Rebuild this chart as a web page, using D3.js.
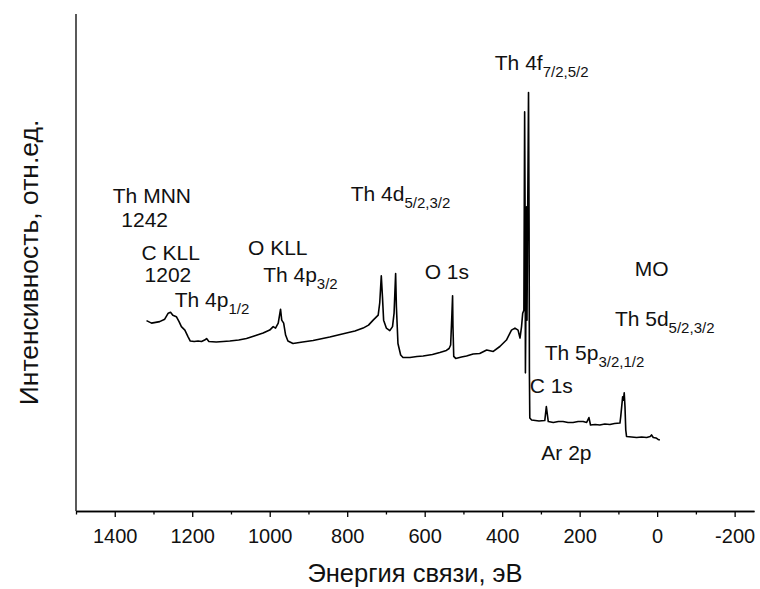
<!DOCTYPE html>
<html>
<head>
<meta charset="utf-8">
<script src="https://cdn.jsdelivr.net/npm/d3@7/dist/d3.min.js"></script>
<style>
  html, body { margin: 0; padding: 0; background: #fff; }
  svg { display: block; font-family: "Liberation Sans", Arial, sans-serif; }
</style>
</head>
<body>
<svg id="chart" width="760" height="589"></svg>
<script>
// XPS survey spectrum: binding energy (eV) and intensity (arb. units)
const energy = [1318, 1305, 1284, 1271, 1262, 1256, 1250, 1241, 1234, 1228, 1219, 1211, 1205, 1195, 1185,
  1176, 1168, 1163, 1157, 1138, 1120, 1103, 1080, 1060, 1040, 1017, 1000, 991, 985, 978, 972, 969, 964,
  959, 953, 940, 915, 888, 845, 802, 780, 759, 745, 733, 720, 716, 712, 709, 706, 699, 690, 683, 679,
  675, 673, 669, 662, 656, 638, 620, 604, 580, 561, 544, 537, 533, 530, 528, 527, 525, 520, 505, 492,
  475, 458, 440, 423, 406, 389, 376, 367, 359, 354, 350, 347, 344, 342, 341, 340, 338.5, 337, 336, 333,
  332, 330.5, 329.7, 328.7, 324, 305, 290, 286, 281, 268, 255, 243, 230, 217, 204, 191, 182, 176, 172,
  160, 148, 135, 122, 110, 96, 94, 89, 87, 85, 83, 81, 79, 66, 53, 40, 27, 18, 14.5, 10, 3, -2.5, -7];
const intensity = [383, 378, 381, 386, 398, 400, 394, 391, 381, 371, 364, 351, 342, 341, 342,
  341, 344, 347, 341, 340, 341, 342, 344, 347, 352, 358, 364, 371, 368, 378, 406, 384, 378,
  354, 342, 337, 340, 343, 350, 358, 362, 368, 374, 384, 394, 419, 473, 431, 384, 368, 363, 371, 398,
  478, 411, 337, 314, 309, 309, 311, 312, 315, 319, 323, 327, 334, 391, 433, 371, 311, 307, 310, 312,
  316, 317, 324, 321, 331, 344, 364, 368, 364, 348, 371, 398, 404, 803, 626, 278, 425, 612, 384, 726,
  842, 565, 280, 187, 183, 181, 182, 210, 180, 178, 180, 180, 178, 178, 180, 180, 178, 188, 173,
  174, 173, 175, 174, 176, 177, 190, 230, 223, 238, 210, 163, 150, 149, 148, 149, 148, 150, 153, 148, 147, 144, 143];

// Axis tick values
const majorTicks = [1400, 1200, 1000, 800, 600, 400, 200, 0, -200];
const minorTicks = [1500, 1300, 1100, 900, 700, 500, 300, 100, -100];

// Peak annotations: label, subscript, anchor (energy, intensity)
const labelText = ["Th MNN", "1242", "C KLL", "1202", "O KLL", "Th 4p", "Th 4p", "Th 4d", "O 1s",
  "Th 4f", "MO", "Th 5d", "Th 5p", "C 1s", "Ar 2p"];
const labelSub = ["", "", "", "", "", "3/2", "1/2", "5/2,3/2", "", "7/2,5/2", "", "5/2,3/2", "3/2,1/2", "", ""];
const labelE = [1405, 1383, 1331, 1323, 1056, 1017, 1245, 791, 600, 419, 58, 109, 290, 329, 299];
const labelI = [620, 571, 505, 461, 515, 461, 411, 624, 467, 887, 473, 372, 304, 237, 103];

const svg = d3.select("#chart");
const x = d3.scaleLinear().domain([1500, -250]).range([76, 754]);
const y = d3.scaleLinear().domain([0, 1000]).range([511, 14]);

// Left axis line (no ticks)
svg.append("line")
  .attr("x1", x(1500)).attr("x2", x(1500))
  .attr("y1", y(1000)).attr("y2", y(0))
  .attr("stroke", "#000").attr("stroke-width", 1.3);

// Bottom axis: minor ticks then major ticks with labels
const gMinor = svg.append("g").attr("transform", `translate(0,${y(0)})`)
  .call(d3.axisBottom(x).tickValues(minorTicks).tickSize(3.5).tickSizeOuter(0).tickFormat(""));
const gMajor = svg.append("g").attr("transform", `translate(0,${y(0)})`)
  .call(d3.axisBottom(x).tickValues(majorTicks).tickSize(6).tickSizeOuter(0).tickPadding(12)
    .tickFormat(d => d3.format("d")(d).replace("−", "-")));
[gMinor, gMajor].forEach(g => {
  g.selectAll("path, line").attr("stroke", "#000").attr("stroke-width", 1.3);
});
gMajor.selectAll("text").attr("fill", "#111").style("font-size", "20px")
  .style("font-family", "'Liberation Sans', Arial, sans-serif");

// Spectrum trace
const data = energy.map((e, i) => ({ e, v: intensity[i] }));
svg.append("path")
  .datum(data)
  .attr("fill", "none")
  .attr("stroke", "#000")
  .attr("stroke-width", 1.6)
  .attr("stroke-linejoin", "round")
  .attr("d", d3.line().x(d => x(d.e)).y(d => y(d.v)));

// Peak labels
labelText.forEach((t, i) => {
  const txt = svg.append("text")
    .attr("x", x(labelE[i])).attr("y", y(labelI[i]))
    .attr("fill", "#111").style("font-size", "21px");
  txt.append("tspan").text(t);
  if (labelSub[i]) {
    txt.append("tspan").attr("dy", 7).style("font-size", "15px").text(labelSub[i]);
  }
});

// Axis titles
svg.append("text")
  .attr("x", (x(1500) + x(-250)) / 2).attr("y", 582)
  .attr("text-anchor", "middle").attr("fill", "#111").style("font-size", "25.5px")
  .text("Энергия связи, эВ");
svg.append("text")
  .attr("transform", `translate(38,${(y(0) + y(1000)) / 2}) rotate(-90)`)
  .attr("text-anchor", "middle").attr("fill", "#111").style("font-size", "26.5px")
  .text("Интенсивность, отн.ед.");
</script>
</body>
</html>
